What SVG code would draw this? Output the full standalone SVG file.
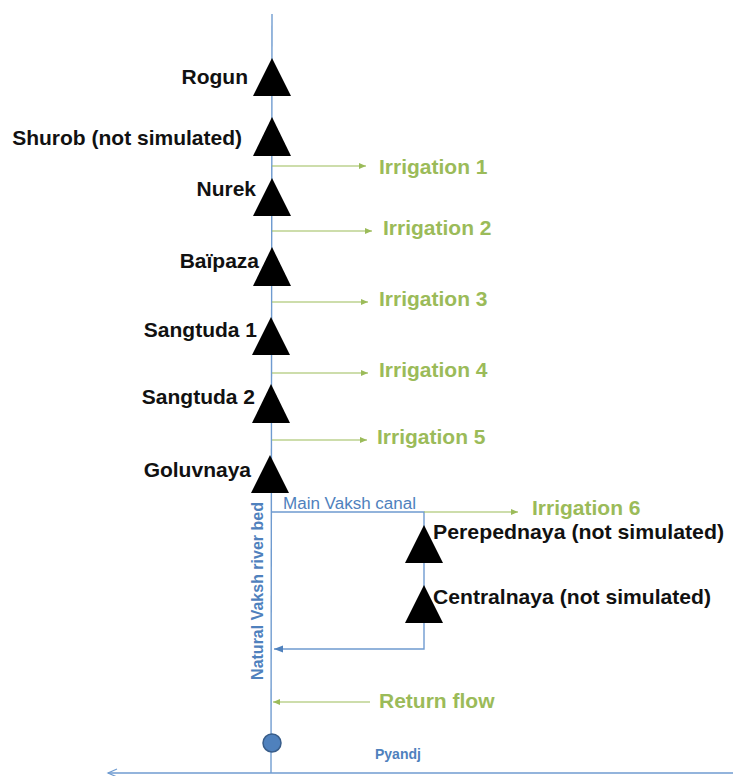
<svg xmlns="http://www.w3.org/2000/svg" width="733" height="776" viewBox="0 0 733 776">
<style>
.lbl{font-family:"Liberation Sans",Arial,sans-serif;font-weight:bold;font-size:21px;fill:#111}
.grn{font-family:"Liberation Sans",Arial,sans-serif;font-weight:bold;font-size:21px;fill:#9bbb59}
.blu{font-family:"Liberation Sans",Arial,sans-serif;fill:#4f81bd}
.riv{stroke:#6f9bd0;stroke-width:1.4;fill:none}
.irr{stroke:#9bbb59;stroke-width:1.1;fill:none;marker-end:url(#ga)}
.dam{fill:#000}
</style>
<defs>
<marker id="ga" markerWidth="8" markerHeight="8" refX="7" refY="4" orient="auto" markerUnits="userSpaceOnUse">
<path d="M0,1 L7,4 L0,7 Z" fill="#9bbb59"/>
</marker>
<marker id="ba" markerWidth="10" markerHeight="10" refX="9" refY="5" orient="auto" markerUnits="userSpaceOnUse">
<path d="M0,1.5 L9,5 L0,8.5 Z" fill="#4f81bd"/>
</marker>
<marker id="bo" markerWidth="12" markerHeight="12" refX="10" refY="6" orient="auto" markerUnits="userSpaceOnUse">
<path d="M1,2 L10,6 L1,10" fill="none" stroke="#6f9bd0" stroke-width="1.2"/>
</marker>
</defs>
<g id="connectors">
<line class="riv" x1="272" y1="14" x2="271" y2="773"/>
<line class="riv" x1="733" y1="773" x2="108" y2="773" marker-end="url(#bo)"/>
<polyline class="riv" points="271,512 424,512 424,649 274,649" marker-end="url(#ba)"/>
<line class="irr" x1="272" y1="166" x2="366" y2="166"/>
<line class="irr" x1="272" y1="231" x2="372" y2="231"/>
<line class="irr" x1="272" y1="302" x2="368" y2="302"/>
<line class="irr" x1="272" y1="373" x2="368" y2="373"/>
<line class="irr" x1="272" y1="440" x2="367" y2="440"/>
<line class="irr" x1="424" y1="512" x2="518" y2="512"/>
<line class="irr" x1="370" y1="702" x2="273" y2="702"/>
</g>
<g id="rogun"><polygon class="dam" points="272,58 253,96 291,96"/><text class="lbl" x="248" y="84" text-anchor="end">Rogun</text></g>
<g id="shurob"><polygon class="dam" points="272,117 253,156 291,156"/><text class="lbl" x="242" y="145" text-anchor="end">Shurob (not simulated)</text></g>
<g id="nurek"><polygon class="dam" points="272,178 253,216 291,216"/><text class="lbl" x="256" y="196" text-anchor="end">Nurek</text></g>
<g id="baipaza"><polygon class="dam" points="272,247 253,286 291,286"/><text class="lbl" x="259" y="268" text-anchor="end">Baïpaza</text></g>
<g id="sangtuda1"><polygon class="dam" points="271,317 252,355 290,355"/><text class="lbl" x="257" y="337" text-anchor="end">Sangtuda 1</text></g>
<g id="sangtuda2"><polygon class="dam" points="271,384 252,423 290,423"/><text class="lbl" x="255" y="404" text-anchor="end">Sangtuda 2</text></g>
<g id="goluvnaya"><polygon class="dam" points="270,455 251,493 289,493"/><text class="lbl" x="251" y="477" text-anchor="end">Goluvnaya</text></g>
<g id="perepednaya"><polygon class="dam" points="424,525 405,563 443,563"/><text class="lbl" x="433" y="539" textLength="291" lengthAdjust="spacingAndGlyphs">Perepednaya (not simulated)</text></g>
<g id="centralnaya"><polygon class="dam" points="424,585 405,623 443,623"/><text class="lbl" x="433" y="604" textLength="278" lengthAdjust="spacingAndGlyphs">Centralnaya (not simulated)</text></g>
<g id="irrigation1"><text class="grn" x="379" y="174">Irrigation 1</text></g>
<g id="irrigation2"><text class="grn" x="383" y="235">Irrigation 2</text></g>
<g id="irrigation3"><text class="grn" x="379" y="306">Irrigation 3</text></g>
<g id="irrigation4"><text class="grn" x="379" y="377">Irrigation 4</text></g>
<g id="irrigation5"><text class="grn" x="377" y="444">Irrigation 5</text></g>
<g id="irrigation6"><text class="grn" x="532" y="515">Irrigation 6</text></g>
<g id="returnflow"><text class="grn" x="379" y="708">Return flow</text></g>
<g id="canal"><text class="blu" x="283" y="509" font-size="16" textLength="133" lengthAdjust="spacingAndGlyphs">Main Vaksh canal</text></g>
<g id="riverbed"><text class="blu" font-size="16" font-weight="bold" text-anchor="middle" transform="translate(263,591) rotate(-90)">Natural  Vaksh river bed</text></g>
<g id="pyandj"><circle cx="272" cy="743" r="9" fill="#4f81bd" stroke="#385d8a" stroke-width="1.5"/><text class="blu" x="375" y="759" font-size="14" font-weight="bold">Pyandj</text></g>
</svg>
